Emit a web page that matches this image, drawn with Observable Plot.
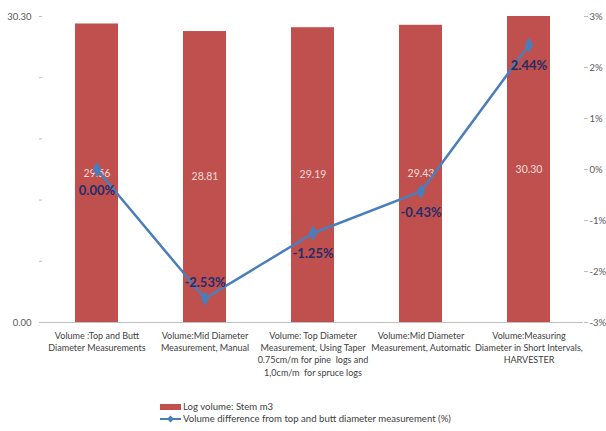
<!DOCTYPE html>
<html><head><meta charset="utf-8">
<script src="https://cdn.jsdelivr.net/npm/d3@7"></script>
<script src="https://cdn.jsdelivr.net/npm/@observablehq/plot@0.6"></script>
<style>
body{margin:0;background:#fff;font-family:Lato,sans-serif}
#wrap{position:relative;width:606px;height:431px;overflow:hidden}
#legend{position:absolute;left:160px;top:401px;font-size:9.6px;color:#404040;line-height:12px}
#legend .row{display:flex;align-items:center;height:12px}
#legend svg{margin-right:1px}
svg g[aria-label="y-axis tick label"]{fill:#595959}
</style></head>
<body><div id="wrap"><div id="chart"></div><div id="legend"></div></div>
<script>
const categories = ["A", "B", "C", "D", "E"];
const categoryLabels = [
  "Volume :Top and Butt\nDiameter Measurements",
  "Volume:Mid Diameter\nMeasurement, Manual",
  "Volume: Top Diameter\nMeasurement, Using Taper\n0.75cm/m for pine  logs and\n1,0cm/m  for spruce logs",
  "Volume:Mid Diameter\nMeasurement, Automatic",
  "Volume:Measuring\nDiameter in Short Intervals,\nHARVESTER"
];
const logVolume = [29.56, 28.81, 29.19, 29.43, 30.30];
const volumeDiff = [0.00, -2.53, -1.25, -0.43, 2.44];
const leftDomain = [0, 30.30];
const rightDomain = [-3, 3];
const leftTicks = [0, 6.06, 12.12, 18.18, 24.24, 30.30];
const leftTickLabels = ["0.00", "", "", "", "", "30.30"];
const rightTicks = [-3, -2, -1, 0, 1, 2, 3];
const rightTickLabels = ["-3%", "-2%", "-1%", "0%", "1%", "2%", "3%"];
const seriesNames = ["Log volume: Stem  m3", "Volume difference from top and butt diameter measurement (%)"];

const barColor = "#c0504d", lineColor = "#4a7ebb";
const axisFont = "Lato, sans-serif";
const toLeft = p => (p - rightDomain[0]) / (rightDomain[1] - rightDomain[0]) * (leftDomain[1] - leftDomain[0]) + leftDomain[0];
const rows = categories.map((c, i) => ({c, v: logVolume[i], p: volumeDiff[i], py: toLeft(volumeDiff[i])}));
const minP = d3.min(volumeDiff);

const chart = Plot.plot({
  width: 606, height: 431,
  marginTop: 16, marginBottom: 109, marginLeft: 42, marginRight: 23,
  style: {fontFamily: axisFont, fontSize: "9px", color: "#404040"},
  x: {domain: categories, paddingInner: 0.6, paddingOuter: 0.3, label: null},
  y: {domain: leftDomain, label: null},
  marks: [
    Plot.barY(rows, {x: "c", y: "v", fill: barColor}),
    Plot.ruleY([0], {stroke: "#bfbfbf"}),
    Plot.axisY({anchor: "left", label: null, ticks: leftTicks, tickSize: 3, tickPadding: 8, line: true, color: "#bfbfbf",
      tickFormat: d => leftTickLabels[leftTicks.indexOf(d)], fontSize: 9.5}),
    Plot.axisY({anchor: "right", label: null, ticks: rightTicks.map(toLeft), tickSize: 4, tickPadding: 2, line: true, color: "#bfbfbf",
      tickFormat: d => rightTickLabels[rightTicks.map(toLeft).indexOf(d)], fontSize: 9.5}),
    Plot.axisX({label: null, tickSize: 0, tickPadding: 8, lineAnchor: "top", lineHeight: 1.35, color: "#404040",
      tickFormat: d => categoryLabels[categories.indexOf(d)], fontSize: 9}),
    Plot.text(rows, {x: "c", y: d => d.v / 2, text: d => d.v.toFixed(2), fill: "#f2dcdb", fontSize: 10.5, fontFamily: axisFont}),
    Plot.lineY(rows, {x: "c", y: "py", stroke: lineColor, strokeWidth: 2.5}),
    Plot.dot(rows, {x: "c", y: "py", symbol: "diamond", fill: lineColor, r: 4.5}),
    Plot.text(rows.filter(d => d.p !== minP), {x: "c", y: "py", dy: 21, text: d => d.p.toFixed(2) + "%", fill: "#1f2d6b", fontWeight: "bold", fontSize: 13, fontFamily: axisFont}),
    Plot.text(rows.filter(d => d.p === minP), {x: "c", y: "py", dy: -16, text: d => d.p.toFixed(2) + "%", fill: "#1f2d6b", fontWeight: "bold", fontSize: 13, fontFamily: axisFont})
  ]
});
document.getElementById("chart").append(chart);

document.getElementById("legend").innerHTML =
  `<div class="row"><svg width="22" height="8"><rect x="0" y="1" width="21" height="6" fill="${barColor}"/></svg>${seriesNames[0]}</div>` +
  `<div class="row"><svg width="22" height="10"><line x1="0" y1="5" x2="21" y2="5" stroke="${lineColor}" stroke-width="2"/><path d="M10.5,1.5 L14,5 L10.5,8.5 L7,5Z" fill="${lineColor}"/></svg>${seriesNames[1]}</div>`;
</script>
</body></html>
